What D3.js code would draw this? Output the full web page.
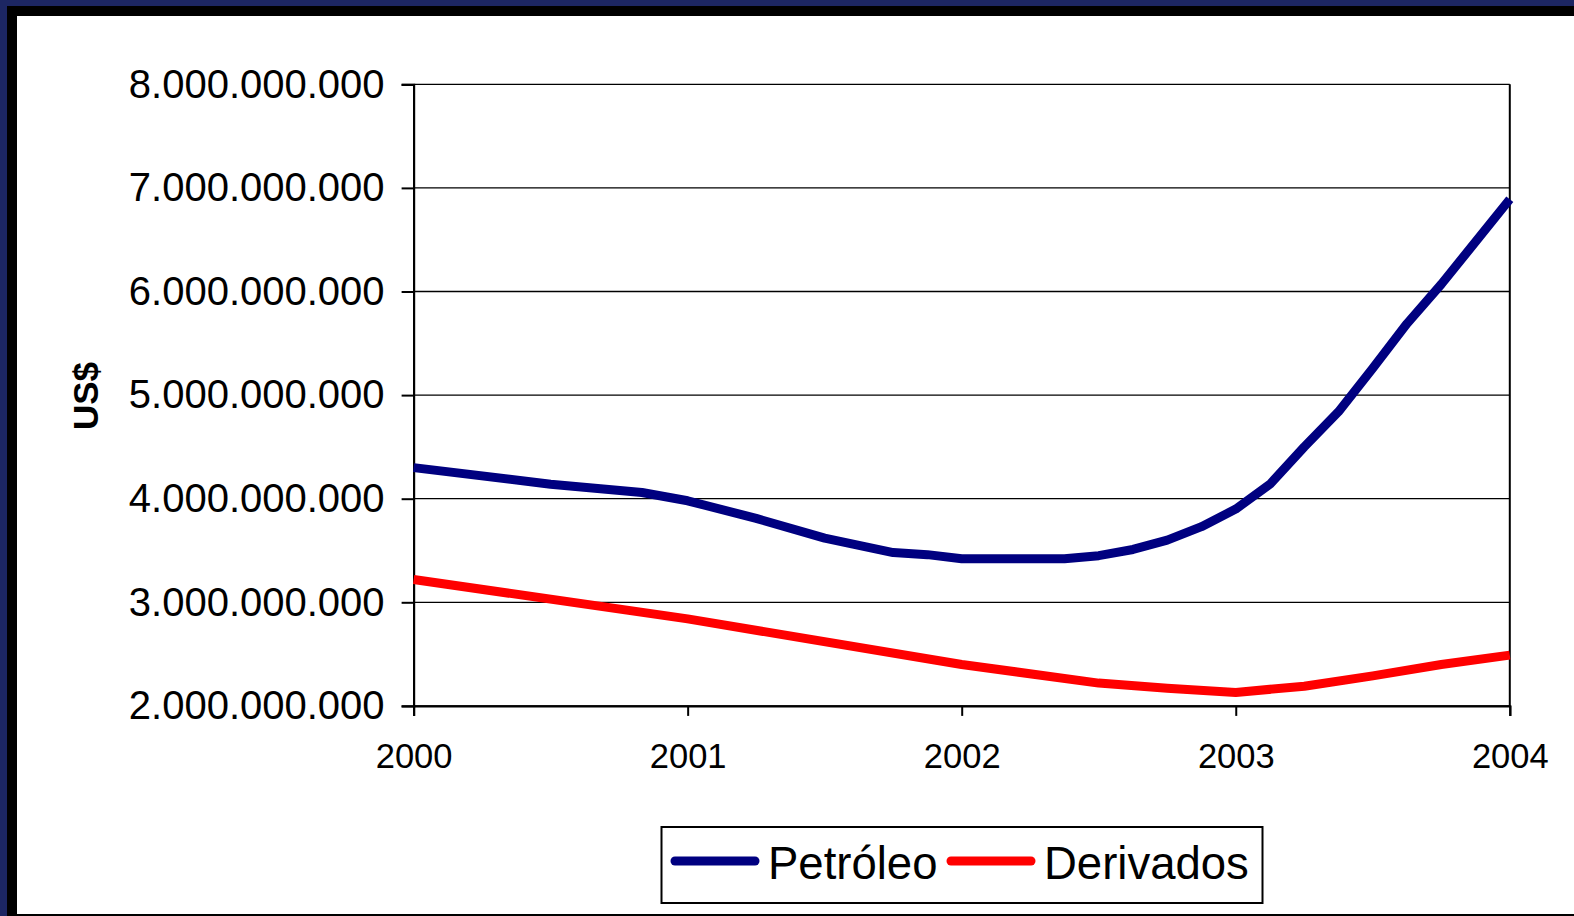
<!DOCTYPE html>
<html>
<head>
<meta charset="utf-8">
<script src="https://cdn.jsdelivr.net/npm/d3@7"></script>
<style>
  html, body { margin: 0; padding: 0; background: #1c2663; }
  svg { display: block; }
  text { font-family: "Liberation Sans", Arial, sans-serif; fill: #000; }
</style>
</head>
<body>
<svg id="chart" width="1574" height="916"></svg>
<script>
// months since Jan 2000, values in billions US$
var petroleoMonths = [0, 6, 10, 12, 15, 18, 21, 22.5, 24, 28.5, 30, 31.5, 33, 34.5, 36, 37.5, 39, 40.5, 42, 43.5, 45, 48];
var petroleoValues = [4.30, 4.14, 4.06, 3.98, 3.81, 3.62, 3.48, 3.46, 3.42, 3.42, 3.45, 3.51, 3.60, 3.73, 3.90, 4.14, 4.50, 4.84, 5.26, 5.69, 6.07, 6.89];

var derivadosMonths = [0, 12, 24, 30, 33, 36, 39, 42, 45, 48];
var derivadosValues = [3.22, 2.84, 2.40, 2.22, 2.17, 2.13, 2.19, 2.29, 2.40, 2.49];

var yearLabels = ["2000", "2001", "2002", "2003", "2004"];
var yTicks = [2e9, 3e9, 4e9, 5e9, 6e9, 7e9, 8e9];
var seriesNames = ["Petróleo", "Derivados"];
var seriesColors = ["#000080", "#ff0000"];

(function () {
  var svg = d3.select("#chart");

  // slide frame
  svg.append("rect").attr("x", 7).attr("y", 6).attr("width", 1567).attr("height", 910).attr("fill", "#000");
  svg.append("rect").attr("x", 17).attr("y", 16).attr("width", 1557).attr("height", 898).attr("fill", "#fff");

  var pLeft = 413.6, pRight = 1509.8, pTop = 84.3, pBottom = 705.9;

  var x = d3.scaleLinear().domain([0, 48]).range([pLeft, pRight]);
  var y = d3.scaleLinear().domain([2e9, 8e9]).range([pBottom, pTop]);

  var loc = d3.formatLocale({decimal: ",", thousands: ".", grouping: [3], currency: ["", ""]});
  var fmt = loc.format(",.0f");

  // gridlines
  svg.append("g").selectAll("line").data(yTicks).enter().append("line")
    .attr("x1", pLeft).attr("x2", pRight)
    .attr("y1", function (d) { return y(d); }).attr("y2", function (d) { return y(d); })
    .attr("stroke", "#000").attr("stroke-width", 1.3);

  // right border of plot
  svg.append("line").attr("x1", pRight).attr("x2", pRight).attr("y1", pTop).attr("y2", pBottom)
    .attr("stroke", "#000").attr("stroke-width", 2);

  var yAxis = d3.axisLeft(y).tickValues(yTicks).tickFormat(fmt).tickSize(12).tickPadding(17);
  var gy = svg.append("g").attr("transform", "translate(" + pLeft + ",0)").call(yAxis);
  gy.select(".domain").attr("stroke", "#000").attr("stroke-width", 2.2);
  gy.selectAll(".tick line").attr("stroke-width", 2);
  gy.selectAll("text").style("font-size", "40px").attr("font-family", null);

  var xAxis = d3.axisBottom(x).tickValues([0, 12, 24, 36, 48])
    .tickFormat(function (d, i) { return yearLabels[i]; }).tickSize(10).tickPadding(28);
  var gx = svg.append("g").attr("transform", "translate(0," + pBottom + ")").call(xAxis);
  gx.select(".domain").attr("stroke", "#000").attr("stroke-width", 2.2);
  gx.selectAll(".tick line").attr("stroke-width", 2);
  gx.selectAll("text").style("font-size", "34.5px").attr("font-family", null);

  // axis title
  svg.append("text")
    .attr("text-anchor", "middle")
    .attr("transform", "translate(98,396)rotate(-90)")
    .style("font-size", "35px").style("font-weight", "bold")
    .text("US$");

  var line = d3.line()
    .x(function (d) { return x(d[0]); })
    .y(function (d) { return y(d[1] * 1e9); });

  var series = [
    d3.zip(petroleoMonths, petroleoValues),
    d3.zip(derivadosMonths, derivadosValues)
  ];

  svg.append("g").selectAll("path").data(series).enter().append("path")
    .attr("d", line)
    .attr("fill", "none")
    .attr("stroke", function (d, i) { return seriesColors[i]; })
    .attr("stroke-width", 9)
    .attr("stroke-linejoin", "round");

  // legend
  var lg = svg.append("g");
  lg.append("rect").attr("x", 661.5).attr("y", 827).attr("width", 601).attr("height", 76)
    .attr("fill", "#fff").attr("stroke", "#000").attr("stroke-width", 2);
  var legendX = [675, 951];
  var items = lg.selectAll(".item").data(seriesNames).enter().append("g")
    .attr("transform", function (d, i) { return "translate(" + legendX[i] + ",861)"; });
  items.append("line").attr("x1", 0).attr("x2", 80).attr("y1", 0).attr("y2", 0)
    .attr("stroke", function (d, i) { return seriesColors[i]; })
    .attr("stroke-width", 9).attr("stroke-linecap", "round");
  items.append("text").attr("x", 93).attr("y", 18)
    .style("font-size", "45.5px")
    .text(function (d) { return d; });
})();
</script>
</body>
</html>
